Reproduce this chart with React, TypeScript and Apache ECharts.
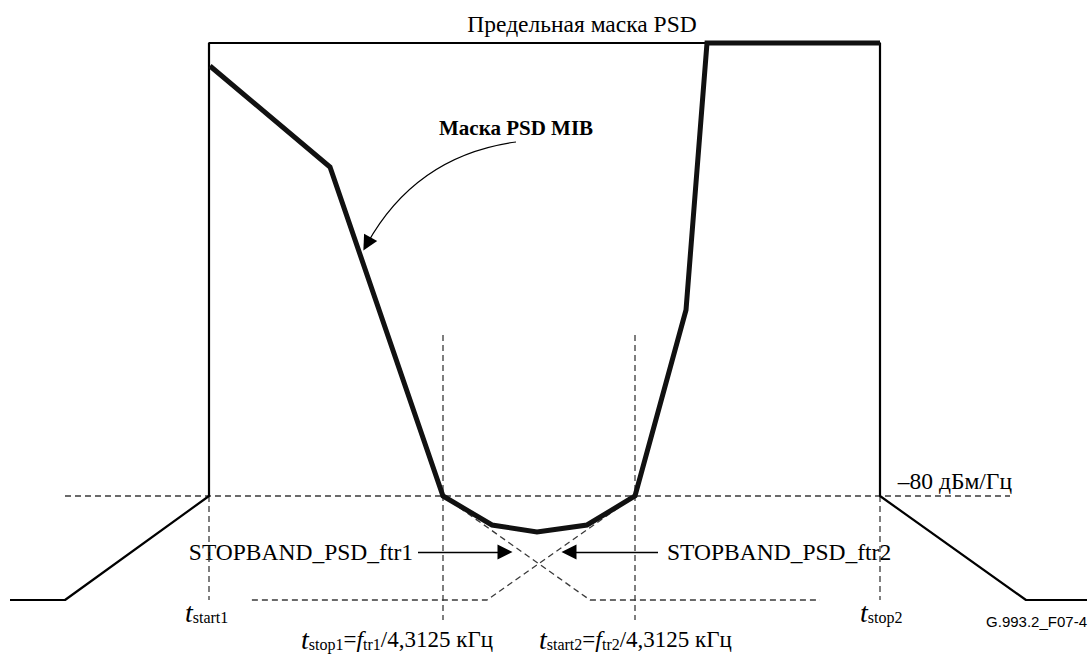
import React, { useEffect, useRef } from "react";
import * as echarts from "echarts";

// Diagram coordinates (x: 0..1088 left→right, y: 0..655 top→bottom)
const limitX = [10, 65, 209, 209, 880, 880, 1026, 1087];
const limitY = [600, 600, 496, 43, 43, 496, 600, 600];

const mibX = [210, 330, 443, 492, 537, 587, 635, 686, 707, 880];
const mibY = [66, 167, 496, 525, 532, 525, 496, 310, 43, 43];

const refLineX = [65, 1010];
const refLineY = [496, 496];

const ftr1X = [443, 590, 820];
const ftr1Y = [496, 600, 600];
const ftr2X = [635, 487, 250];
const ftr2Y = [496, 600, 600];

const vert1X = [209, 209];
const vert1Y = [496, 600];
const vert2X = [443, 443];
const vert2Y = [335, 620];
const vert3X = [635, 635];
const vert3Y = [335, 620];
const vert4X = [880, 880];
const vert4Y = [496, 600];

// annotation arrows: [fromX, fromY, toX, toY]
const arrowFtr1 = [418, 552, 505, 552];
const arrowFtr2 = [658, 552, 569, 552];
const arrowMib = [516, 142, 367, 244];

const SERIF = "Liberation Serif";
const SANS = "Liberation Sans";

const zip = (xs: number[], ys: number[]) => xs.map((x, i) => [x, ys[i]]);

const dashed = (xs: number[], ys: number[]) => ({
  type: "line",
  data: zip(xs, ys),
  symbol: "none",
  silent: true,
  lineStyle: { color: "#3a3a3a", width: 1.3, type: [6, 4] },
  z: 1,
});

const base = { fontFamily: SERIF, fontSize: 23, lineHeight: 26, fill: "#000", color: "#000" };
const richT = {
  t: { ...base, fontStyle: "italic", fontSize: 28 },
  f: { ...base, fontStyle: "italic", fontSize: 24 },
  n: { ...base },
  s: { fontFamily: SERIF, fontSize: 16, lineHeight: 15, verticalAlign: "bottom", fill: "#000", color: "#000" },
};

const txt = (x: number, y: number, text: string, opts: any = {}) => ({
  type: "text",
  x,
  y,
  silent: true,
  style: {
    text,
    fill: "#000",
    fontFamily: opts.family || SERIF,
    fontSize: opts.size || 23.5,
    fontWeight: opts.weight || "normal",
    align: opts.align || "left",
    textAlign: opts.align || "left",
    verticalAlign: "middle",
    textVerticalAlign: "middle",
    ...(opts.rich ? { rich: opts.rich } : {}),
  },
});

const arrowLine = (a: number[], curveness: number, width: number) => ({
  type: "lines",
  coordinateSystem: "cartesian2d",
  silent: true,
  z: 4,
  symbol: ["none", "triangle"],
  symbolSize: [13, 15],
  lineStyle: { color: "#000", width, type: "solid", curveness, opacity: 1 },
  itemStyle: { color: "#000" },
  data: [{ coords: [[a[0], a[1]], [a[2], a[3]]] }],
});

const option: any = {
  animation: false,
  backgroundColor: "#fff",
  grid: { left: 0, right: 0, top: 0, bottom: 0 },
  xAxis: { type: "value", min: 0, max: 1088, show: false },
  yAxis: { type: "value", min: 0, max: 655, inverse: true, show: false },
  series: [
    dashed(refLineX, refLineY),
    dashed(vert1X, vert1Y),
    dashed(vert2X, vert2Y),
    dashed(vert3X, vert3Y),
    dashed(vert4X, vert4Y),
    dashed(ftr1X, ftr1Y),
    dashed(ftr2X, ftr2Y),
    {
      type: "line",
      data: zip(limitX, limitY),
      symbol: "none",
      silent: true,
      lineStyle: { color: "#000", width: 2.2 },
      z: 2,
    },
    {
      type: "line",
      data: zip(mibX, mibY),
      symbol: "none",
      silent: true,
      lineStyle: { color: "#111", width: 5, join: "miter" },
      z: 3,
    },
    arrowLine(arrowFtr1, 0, 1.4),
    arrowLine(arrowFtr2, 0, 1.4),
    arrowLine(arrowMib, -0.25, 1.2),
  ],
  graphic: [
    txt(582, 24, "Предельная маска PSD", { align: "center" }),
    txt(439, 128, "Маска PSD MIB", { weight: "bold", size: 21 }),
    txt(1012, 481, "–80 дБм/Гц", { align: "right" }),
    txt(413, 552, "STOPBAND_PSD_ftr1", { align: "right" }),
    txt(667, 552, "STOPBAND_PSD_ftr2"),
    txt(1087, 621, "G.993.2_F07-4", { align: "right", family: SANS, size: 15 }),
    txt(185, 612, "{t|t}{s|start1}", { rich: richT }),
    txt(860, 612, "{t|t}{s|stop2}", { rich: richT }),
    txt(301, 639, "{t|t}{s|stop1}{n|=}{f|f}{s|tr1}{n|/4,3125 кГц}", { rich: richT }),
    txt(539, 639, "{t|t}{s|start2}{n|=}{f|f}{s|tr2}{n|/4,3125 кГц}", { rich: richT }),
  ],
};

export default function App() {
  const ref = useRef<HTMLDivElement>(null);
  useEffect(() => {
    const chart = echarts.init(ref.current!, undefined, { renderer: "svg" });
    chart.setOption(option);
    return () => chart.dispose();
  }, []);
  return (
    <div
      ref={ref}
      style={{ position: "fixed", left: 0, top: 0, width: 1088, height: 655, background: "#fff" }}
    />
  );
}
